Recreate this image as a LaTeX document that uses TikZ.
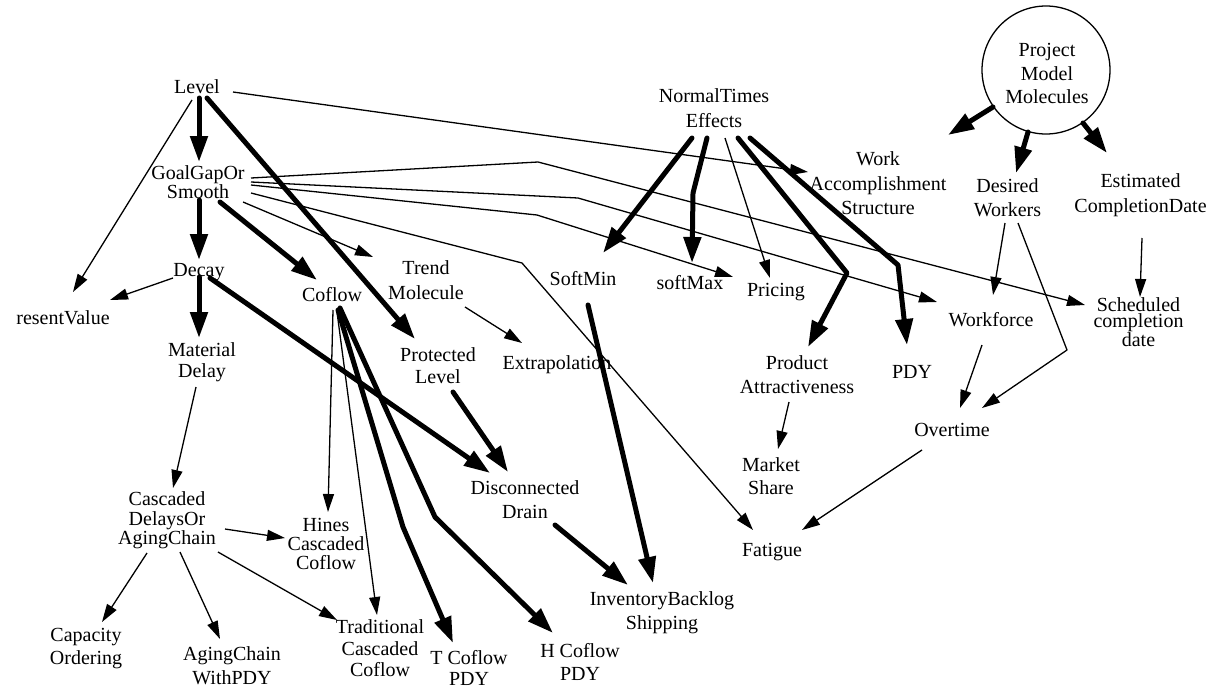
\documentclass[tikz,border=0pt]{standalone}
\usepackage{fontspec}
\setmainfont{Liberation Serif}
\usetikzlibrary{arrows.meta}
\tikzset{
  lbl/.style={align=center, inner sep=0pt, font=\fontsize{20}{#1}\selectfont},
  lbl/.default=24,
  thk/.style={line width=5pt, line cap=round, line join=round, -{Triangle[length=26pt,width=17pt]}},
  thn/.style={line width=1.3pt, line join=round, -{Triangle[length=18pt,width=11pt]}},
}
\newcommand{\at}[3]{([shift={(#2,#3)}]#1.center)}
\begin{document}
\begin{tikzpicture}[x=1pt,y=-1pt]
\useasboundingbox[fill=white] (0,0) rectangle (1214,688);
% nodes
\node[lbl] (level) at (197,87) {Level};
\node[lbl=15.5] (goal) at (198,182.5) {GoalGapOr\\Smooth};
\node[lbl] (decay) at (199,272) {Decay};
\node[lbl] (present) at (63,318) {resentValue};
\node[lbl=21] (material) at (202,362.5) {Material\\Delay};
\node[lbl] (coflow) at (332,295) {Coflow};
\node[lbl=25] (trend) at (426,280.5) {Trend\\Molecule};
\node[lbl=22] (protected) at (438,366) {Protected\\Level};
\node[lbl] (extrap) at (557,365) {Extrapolation};
\node[lbl] (softmin) at (583,279) {SoftMin};
\node[lbl] (softmax) at (690,283) {softMax};
\node[lbl] (pricing) at (776,292) {Pricing};
\node[lbl=25] (normal) at (714,108.5) {NormalTimes\\Effects};
\node[lbl=24.5] (work) at (878,183.5) {Work\\Accomplishment\\Structure};
\node[draw, circle, line width=1.3pt, minimum size=128pt, inner sep=0pt] (project) at (1046,70) {};
\node[lbl=23.5] (projecttext) at (1047,73.5) {Project\\Model\\Molecules};
\node[lbl] (desired) at (1007.5,198) {Desired\\Workers};
\node[lbl=25] (estimated) at (1140.5,195.5) {Estimated\\CompletionDate};
\node[lbl=16.5] (scheduled) at (1138.5,322) {Scheduled\\completion\\date};
\node[lbl] (workforce) at (991,320) {Workforce};
\node[lbl] (pdy) at (912,372) {PDY};
\node[lbl] (product) at (797,375) {Product\\Attractiveness};
\node[lbl=23] (market) at (771,476.5) {Market\\Share};
\node[lbl] (overtime) at (952,430) {Overtime};
\node[lbl] (fatigue) at (772,552) {Fatigue};
\node[lbl] (disconnected) at (525,500) {Disconnected\\Drain};
\node[lbl] (inventory) at (662,613) {InventoryBacklog\\Shipping};
\node[lbl=23] (hcoflow) at (580,661.5) {H Coflow\\PDY};
\node[lbl=21] (tcoflow) at (469,667.5) {T Coflow\\PDY};
\node[lbl=21.5] (traditional) at (380,648.5) {Traditional\\Cascaded\\Coflow};
\node[lbl=19] (hines) at (326,544) {Hines\\Cascaded\\Coflow};
\node[lbl=19.5] (cascaded) at (167,520.5) {Cascaded\\DelaysOr\\AgingChain};
\node[lbl=23] (capacity) at (86,648.5) {Capacity\\Ordering};
\node[lbl] (agingchain) at (232,666) {AgingChain\\WithPDY};
% bend points
\coordinate (bs) at (538,162);
\coordinate (bw) at (578,198);
\coordinate (bp) at (537,215);
\coordinate (bf) at (522,263);
\coordinate (bt) at (403,527);
\coordinate (bh) at (435,517);
\coordinate (bm) at (693,193);
\coordinate (bpa) at (847,273);
\coordinate (bpd) at (898,265);
\coordinate (bo) at (1067,350);
% connectors
\draw[thk] \at{level}{2}{11} -- \at{goal}{1}{-20.5};
\draw[thn] \at{level}{-5}{13} -- \at{present}{10}{-26};
\draw[thk] \at{level}{10}{11} -- \at{protected}{-23}{-27};
\draw[thn] \at{level}{36}{5} -- \at{work}{-70}{-11.5};
\draw[thk] \at{goal}{1}{17.5} -- \at{decay}{0}{-12};
\draw[thk] \at{goal}{22}{19.5} -- \at{coflow}{-15}{-15};
\draw[thn] \at{goal}{45}{19.5} -- \at{trend}{-53}{-23.5};
\draw[thn] \at{goal}{53}{-4.5} -- (bs) -- \at{scheduled}{-53.5}{-17};
\draw[thn] \at{goal}{53}{-0.5} -- (bw) -- \at{workforce}{-54}{-18};
\draw[thn] \at{goal}{53}{2.5} -- (bp) -- \at{pricing}{-43}{-15};
\draw[thn] \at{goal}{53}{10.5} -- (bf) -- \at{fatigue}{-19}{-22};
\draw[thn] \at{decay}{-26}{6} -- \at{present}{47}{-18};
\draw[thk] \at{decay}{0}{5} -- \at{material}{-3}{-24.5};
\draw[thk] \at{decay}{11}{6} -- \at{disconnected}{-35}{-27};
\draw[thn] \at{material}{-6}{24.5} -- \at{cascaded}{6}{-32.5};
\draw[thn] \at{cascaded}{58}{8.5} -- \at{hines}{-41}{-6};
\draw[thn] \at{cascaded}{-20}{32.5} -- \at{capacity}{16}{-26.5};
\draw[thn] \at{cascaded}{13}{31.5} -- \at{agingchain}{-12}{-27};
\draw[thn] \at{cascaded}{51}{31.5} -- \at{traditional}{-43}{-28.5};
\draw[thn] \at{coflow}{1}{15} -- \at{hines}{2}{-32};
\draw[thn] \at{coflow}{5}{17} -- \at{traditional}{-3}{-33.5};
\draw[thk] \at{coflow}{6}{15} -- (bt) -- \at{tcoflow}{-16}{-24.5};
\draw[thk] \at{coflow}{8}{13} -- (bh) -- \at{hcoflow}{-27}{-28.5};
\draw[thk] \at{protected}{15}{26} -- \at{disconnected}{-17}{-28};
\draw[thk] \at{disconnected}{30}{25} -- \at{inventory}{-34}{-28};
\draw[thk] \at{softmin}{5}{26} -- \at{inventory}{-9}{-30};
\draw[thn] \at{trend}{39}{26.5} -- \at{extrap}{-35}{-22};
\draw[thk] \at{normal}{-22}{29.5} -- \at{softmin}{20}{-26};
\draw[thk] \at{normal}{-7}{29.5} -- (bm) -- \at{softmax}{2}{-20};
\draw[thn] \at{normal}{11}{29.5} -- \at{pricing}{-6}{-14};
\draw[thk] \at{normal}{24}{29.5} -- (bpa) -- \at{product}{11}{-28};
\draw[thk] \at{normal}{36}{29.5} -- (bpd) -- \at{pdy}{-5}{-27};
\draw[thk] \at{project}{-53}{37} -- \at{work}{70}{-48.5};
\draw[thk] \at{project}{-18}{62} -- \at{desired}{8.5}{-25};
\draw[thk] \at{project}{37}{53} -- \at{estimated}{-33.5}{-42.5};
\draw[thn] \at{desired}{-2.5}{25} -- \at{workforce}{2}{-25};
\draw[thn] \at{desired}{10.5}{25} -- (bo) -- \at{overtime}{30}{-22};
\draw[thn] \at{estimated}{1.5}{42.5} -- \at{scheduled}{1.5}{-25};
\draw[thn] \at{workforce}{-9}{25} -- \at{overtime}{8}{-22};
\draw[thn] \at{overtime}{-30}{20} -- \at{fatigue}{30}{-22};
\draw[thn] \at{product}{-8}{27} -- \at{market}{7}{-27.5};
\end{tikzpicture}
\end{document}
